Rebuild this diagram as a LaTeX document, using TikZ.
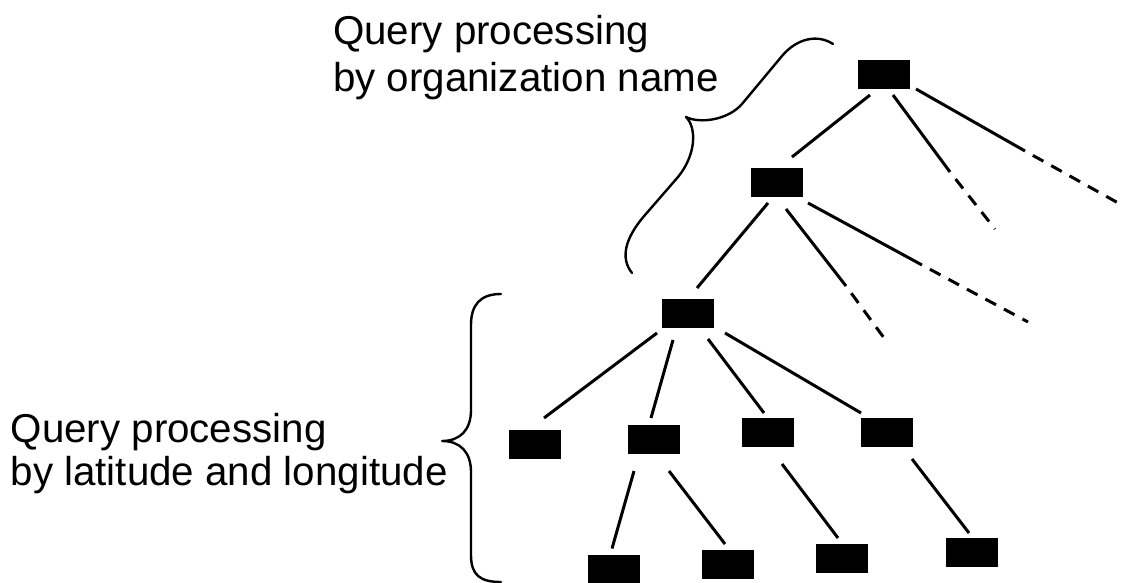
\documentclass[tikz,border=0pt]{standalone}
\usepackage{fontspec}
\setmainfont{Liberation Sans}
\usetikzlibrary{calc}

\tikzset{
  tbox/.style={fill=black, draw=none, minimum width=52pt, minimum height=29pt, inner sep=0pt},
  link/.style={line width=3pt},
  trail/.style={line width=3pt, dash pattern=on 12pt off 9pt, dash phase=12pt},
  bracket/.style={line width=2.4pt, line cap=round, line join=round},
  lbl/.style={anchor=base west, inner sep=0pt, font=\fontsize{40.3}{48}\selectfont}
}

\begin{document}
\begin{tikzpicture}[x=1pt, y=-1pt]
  \useasboundingbox (0,0) rectangle (1128,583);

  % tree nodes
  \node[tbox] (root) at (884,74.5) {};
  \node[tbox] (n1)   at (776.5,182.5) {};
  \node[tbox] (n2)   at (688,313.5) {};
  \node[tbox] (n3a)  at (534.5,444.5) {};
  \node[tbox] (n3b)  at (654,439) {};
  \node[tbox] (n3c)  at (767.5,432.5) {};
  \node[tbox] (n3d)  at (887,432.5) {};
  \node[tbox] (n4a)  at (614,569.5) {};
  \node[tbox] (n4b)  at (728,564) {};
  \node[tbox] (n4c)  at (841.5,558.5) {};
  \node[tbox] (n4d)  at (971.5,552.5) {};

  % branches that fade out (solid part, then dashed)
  \coordinate (rootMidJ) at (950,172);
  \coordinate (rootMidE) at (995,229);
  \coordinate (rootRgtJ) at (1025,151);
  \coordinate (rootRgtE) at (1120,204);
  \coordinate (n1MidJ)   at (846,286);
  \coordinate (n1MidE)   at (887,342);
  \coordinate (n1RgtJ)   at (922,265);
  \coordinate (n1RgtE)   at (1028,322);

  % connectors
  \draw[link] ($(root)+(-14,20.5)$) -- ($(n1)+(15.5,-25.5)$);
  \draw[link] ($(root)+(9,20.5)$) -- (rootMidJ);
  \draw[trail] (rootMidJ) -- (rootMidE);
  \draw[link] ($(root)+(32,14.5)$) -- (rootRgtJ);
  \draw[trail] (rootRgtJ) -- (rootRgtE);

  \draw[link] ($(n1)+(-8.5,20.5)$) -- ($(n2)+(9,-25.5)$);
  \draw[link] ($(n1)+(9.5,26.5)$) -- (n1MidJ);
  \draw[trail] (n1MidJ) -- (n1MidE);
  \draw[link] ($(n1)+(31.5,20.5)$) -- (n1RgtJ);
  \draw[trail] (n1RgtJ) -- (n1RgtE);

  \draw[link] ($(n2)+(-31,19.5)$) -- ($(n3a)+(9.5,-26.5)$);
  \draw[link] ($(n2)+(-15,26.5)$) -- ($(n3b)+(-3,-21)$);
  \draw[link] ($(n2)+(20,25.5)$) -- ($(n3c)+(-3.5,-19.5)$);
  \draw[link] ($(n2)+(37,19.5)$) -- ($(n3d)+(-26,-19.5)$);

  \draw[link] ($(n3b)+(-20,32)$) -- ($(n4a)+(-2,-21)$);
  \draw[link] ($(n3b)+(15,32)$) -- ($(n4b)+(-3,-20)$);
  \draw[link] ($(n3c)+(14.5,31.5)$) -- ($(n4c)+(-3.5,-20.5)$);
  \draw[link] ($(n3d)+(25,26.5)$) -- ($(n4d)+(-2.5,-19.5)$);

  % slanted brace spanning the upper levels
  \draw[bracket] (833,44) .. controls (818,34) and (797,38) .. (782,56)
    -- (742,104) .. controls (728,120) and (700,124) .. (686,117)
    .. controls (697,128) and (696,155) .. (678,177)
    -- (645,215) .. controls (625,238) and (620,258) .. (632,273);

  % upright brace spanning the lower levels
  \draw[bracket] (501,294) .. controls (480,294) and (471,305) .. (471,325)
    -- (471,410) .. controls (471,430) and (460,441) .. (442,441)
    .. controls (460,441) and (471,452) .. (471,472)
    -- (471,555) .. controls (471,575) and (480,582) .. (501,582);

  % labels
  \node[lbl] (orgA) at (333,45) {Query processing};
  \node[lbl] (orgB) at (333,92) {by organization name};
  \node[lbl] (geoA) at (10.5,442) {Query processing};
  \node[lbl] (geoB) at (10.5,485) {by latitude and longitude};
\end{tikzpicture}
\end{document}
